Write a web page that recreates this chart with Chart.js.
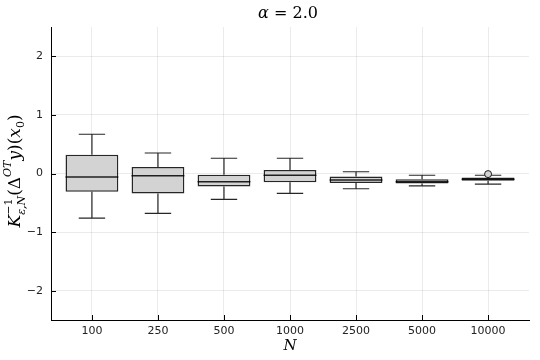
<!DOCTYPE html>
<html>
<head>
<meta charset="utf-8">
<script src="https://cdn.jsdelivr.net/npm/chart.js@4"></script>
<style>
  html, body { margin:0; padding:0; background:#fff; }
  #wrap { width:540px; height:360px; }
</style>
</head>
<body>
<div id="wrap"><canvas id="chart" width="540" height="360"></canvas></div>
<script>
const categories = ['100', '250', '500', '1000', '2500', '5000', '10000'];
const whiskerLow  = [-0.76, -0.68, -0.44, -0.34, -0.26, -0.21, -0.18];
const q1          = [-0.31, -0.34, -0.22, -0.15, -0.16, -0.17, -0.125];
const medians     = [-0.06, -0.04, -0.14, -0.03, -0.11, -0.14, -0.10];
const q3          = [0.32, 0.11, -0.02, 0.06, -0.05, -0.10, -0.07];
const whiskerHigh = [0.67, 0.35, 0.26, 0.26, 0.03, -0.03, -0.03];
const outliers    = [{ x: 6, y: -0.01 }];
const yTicks      = [-2, -1, 0, 1, 2];

const boxColor = '#d3d3d3';
const lineColor = 'rgba(0,0,0,0.85)';
const serif = '"DejaVu Serif", "Liberation Serif", serif';

// draws a row of text pieces; pieces may be raised/lowered
function drawMath(ctx, pieces, cx, cy){
  let total = 0;
  const widths = pieces.map(p => {
    ctx.font = p.font;
    const w = p.stack ? Math.max(...p.stack.map(s => { ctx.font = s.font; return ctx.measureText(s.t).width; })) : ctx.measureText(p.t).width;
    total += w;
    return w;
  });
  let x = cx - total / 2;
  ctx.textBaseline = 'middle';
  ctx.textAlign = 'left';
  pieces.forEach((p, i) => {
    if (p.stack) {
      p.stack.forEach(s => { ctx.font = s.font; ctx.fillText(s.t, x, cy + s.dy); });
    } else {
      ctx.font = p.font;
      ctx.fillText(p.t, x, cy + (p.dy || 0));
    }
    x += widths[i];
  });
}

const boxPlugin = {
  id: 'boxplot',
  beforeDatasetsDraw(chart){
    const { ctx, scales: { x, y } } = chart;
    ctx.save();
    ctx.strokeStyle = lineColor;
    ctx.lineWidth = 1.2;
    categories.forEach((c, i) => {
      const px = x.getPixelForValue(i);
      const half = x.getPixelForValue(0.2) - x.getPixelForValue(0);
      ctx.beginPath();
      ctx.moveTo(px, y.getPixelForValue(whiskerLow[i]));
      ctx.lineTo(px, y.getPixelForValue(q1[i]));
      ctx.moveTo(px, y.getPixelForValue(q3[i]));
      ctx.lineTo(px, y.getPixelForValue(whiskerHigh[i]));
      ctx.moveTo(px - half, y.getPixelForValue(whiskerLow[i]));
      ctx.lineTo(px + half, y.getPixelForValue(whiskerLow[i]));
      ctx.moveTo(px - half, y.getPixelForValue(whiskerHigh[i]));
      ctx.lineTo(px + half, y.getPixelForValue(whiskerHigh[i]));
      ctx.stroke();
    });
    ctx.restore();
  },
  afterDatasetsDraw(chart){
    const { ctx, scales: { x, y } } = chart;
    ctx.save();
    ctx.strokeStyle = lineColor;
    ctx.lineWidth = 1.5;
    categories.forEach((c, i) => {
      const px = x.getPixelForValue(i);
      const half = x.getPixelForValue(0.4) - x.getPixelForValue(0);
      const py = y.getPixelForValue(medians[i]);
      ctx.beginPath();
      ctx.moveTo(px - half, py);
      ctx.lineTo(px + half, py);
      ctx.stroke();
    });
    ctx.restore();
  },
  afterDraw(chart){
    const { ctx, chartArea: a, scales: { x, y } } = chart;
    ctx.save();
    // inward ticks
    ctx.strokeStyle = '#000';
    ctx.lineWidth = 1;
    ctx.beginPath();
    yTicks.forEach(v => {
      const py = Math.round(y.getPixelForValue(v)) + 0.5;
      ctx.moveTo(a.left, py); ctx.lineTo(a.left + 5, py);
    });
    categories.forEach((c, i) => {
      const px = Math.round(x.getPixelForValue(i)) + 0.5;
      ctx.moveTo(px, a.bottom); ctx.lineTo(px, a.bottom - 5);
    });
    ctx.stroke();

    ctx.fillStyle = '#000';
    // title
    drawMath(ctx, [
      { t: 'α', font: 'italic 16px ' + serif },
      { t: ' = 2.0', font: '16px ' + serif }
    ], 288, 14);
    // x title
    drawMath(ctx, [{ t: 'N', font: 'italic 15px ' + serif }], (a.left + a.right) / 2, 346);
    // y title
    ctx.translate(16, 171);
    ctx.rotate(-Math.PI / 2);
    const big = '17px ' + serif, bigI = 'italic 17px ' + serif;
    const sm = '11px ' + serif, smI = 'italic 11px ' + serif;
    drawMath(ctx, [
      { t: 'K', font: bigI },
      { stack: [{ t: '−1', font: sm, dy: -7 }, { t: 'ε,N', font: smI, dy: 6 }] },
      { t: '(Δ', font: big },
      { t: 'OT', font: smI, dy: -8 },
      { t: 'y', font: bigI },
      { t: ')(', font: big },
      { t: 'x', font: bigI },
      { t: '0', font: sm, dy: 5 },
      { t: ')', font: big }
    ], 0, 0);
    ctx.restore();
  }
};

new Chart(document.getElementById('chart'), {
  type: 'bar',
  data: {
    datasets: [
      {
        type: 'bar',
        data: categories.map((c, i) => ({ x: i, y: [q1[i], q3[i]] })),
        backgroundColor: boxColor,
        borderColor: lineColor,
        borderWidth: 1.5,
        borderSkipped: false,
        barPercentage: 0.8,
        categoryPercentage: 1.0
      },
      {
        type: 'scatter',
        data: outliers,
        pointRadius: 3.5,
        pointBackgroundColor: boxColor,
        pointBorderColor: lineColor,
        pointBorderWidth: 1
      }
    ]
  },
  options: {
    responsive: false,
    animation: false,
    layout: { padding: { top: 27, right: 11, left: 0, bottom: 0 } },
    plugins: { legend: { display: false }, tooltip: { enabled: false } },
    scales: {
      x: {
        type: 'linear',
        min: -0.62,
        max: 6.62,
        offset: false,
        afterBuildTicks: s => { s.ticks = categories.map((c, i) => ({ value: i })); },
        afterFit: s => { s.height = 40; },
        ticks: {
          callback: v => categories[v],
          color: '#222',
          font: { family: '"DejaVu Sans", sans-serif', size: 11 },
          padding: 5,
          maxRotation: 0
        },
        grid: { color: 'rgba(0,0,0,0.08)', drawTicks: false, offset: false },
        border: { color: '#000', width: 1 }
      },
      y: {
        min: -2.5,
        max: 2.5,
        afterBuildTicks: s => { s.ticks = yTicks.map(v => ({ value: v })); },
        afterFit: s => { s.width = 51; },
        ticks: {
          callback: v => v < 0 ? '−' + Math.abs(v) : String(v),
          color: '#222',
          font: { family: '"DejaVu Sans", sans-serif', size: 11 },
          padding: 8
        },
        grid: { color: 'rgba(0,0,0,0.08)', drawTicks: false },
        border: { color: '#000', width: 1 }
      }
    }
  },
  plugins: [boxPlugin]
});
</script>
</body>
</html>
